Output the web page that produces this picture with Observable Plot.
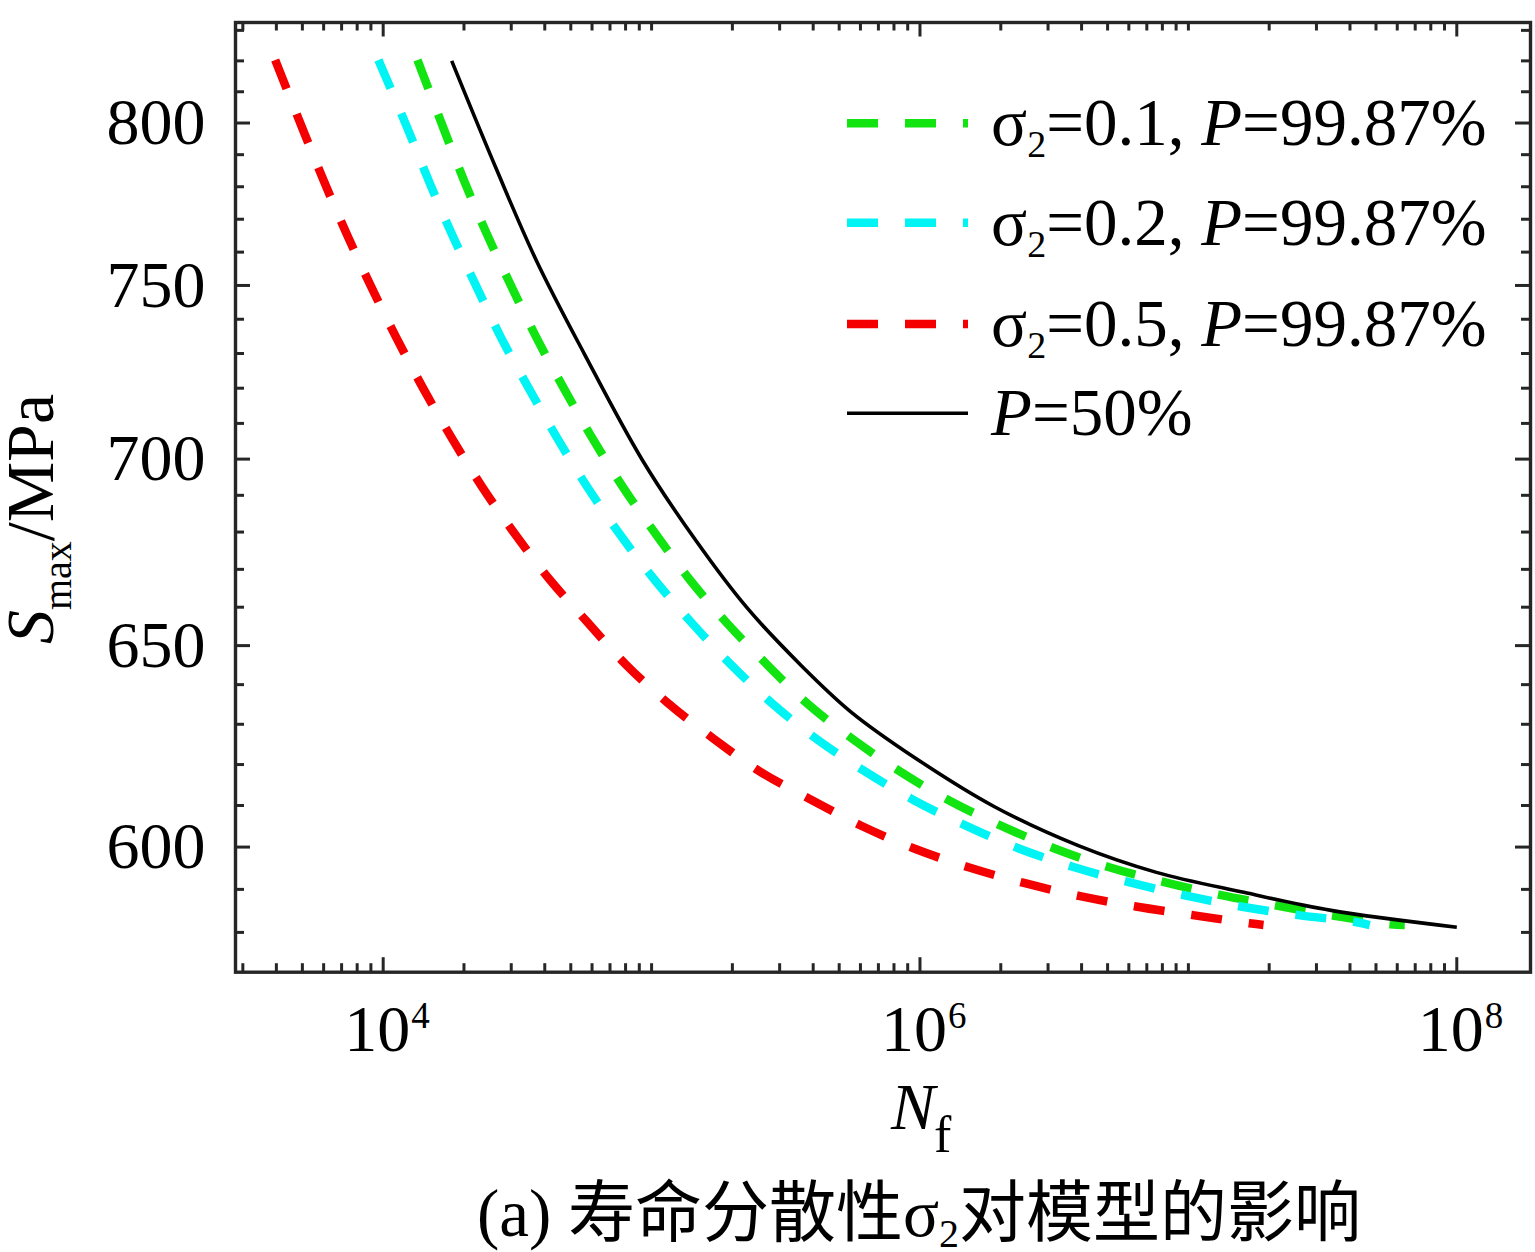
<!DOCTYPE html>
<html>
<head>
<meta charset="utf-8">
<script src="https://cdn.jsdelivr.net/npm/d3@7"></script>
<script src="https://cdn.jsdelivr.net/npm/@observablehq/plot@0.6"></script>
<style>
html, body { margin: 0; padding: 0; background: #fff; }
#chart, #caption { width: 1535px; display: block; }
svg { display: block; }
</style>
</head>
<body>
<div id="chart"></div>
<div id="caption"></div>
<script>
// ---------- axis limits & ticks ----------
const xDomain = [2817, 1.882e8];
const yDomain = [570.9, 832.6];
const xMajorTicks = [1e4, 1e6, 1e8];
const xMajorExp = ["4", "6", "8"];
const xMinorTicks = [
  3e3, 4e3, 5e3, 6e3, 7e3, 8e3, 9e3,
  2e4, 3e4, 4e4, 5e4, 6e4, 7e4, 8e4, 9e4, 1e5,
  2e5, 3e5, 4e5, 5e5, 6e5, 7e5, 8e5, 9e5,
  2e6, 3e6, 4e6, 5e6, 6e6, 7e6, 8e6, 9e6, 1e7,
  2e7, 3e7, 4e7, 5e7, 6e7, 7e7, 8e7, 9e7
];
const yMajorTicks = [600, 650, 700, 750, 800];
const yMinorTicks = [580, 590, 610, 620, 630, 640, 660, 670, 680, 690, 710, 720, 730, 740, 760, 770, 780, 790, 810, 820, 830];

// ---------- series ----------
// P = 50 %
const N_p50 = [1.80e4, 2.65e4, 3.72e4, 5.615e4, 9.21e4, 1.469e5, 2.27e5, 3.585e5, 5.51e5, 9.66e5, 1.895e6, 3.87e6, 7.6e6, 1.607e7, 3.40e7, 1.0e8];
const S_p50 = [820.0, 785.2, 757.5, 729.9, 699.9, 677.5, 659.8, 645.1, 633.2, 621.5, 609.7, 600.4, 594.0, 589.3, 585.1, 581.2];
// sigma2 = 0.1, P = 99.87 %
const N_s01 = [1.342e4, 1.678e4, 2.01e4, 2.436e4, 3.00e4, 3.72e4, 4.70e4, 6.00e4, 7.80e4, 1.033e5, 1.386e5, 1.911e5, 2.694e5, 3.85e5, 5.67e5, 8.47e5, 1.295e6, 2.01e6, 3.19e6, 5.07e6, 8.13e6, 1.31e7, 2.13e7, 3.45e7, 5.65e7, 6.40e7];
const S_s01 = [820.3, 798.3, 781.5, 765.4, 749.8, 734.7, 720.1, 706.0, 692.4, 679.6, 667.3, 655.8, 645.1, 634.9, 626.1, 618.2, 611.1, 605.1, 599.6, 595.2, 591.7, 588.7, 586.2, 583.9, 581.9, 581.7];
// sigma2 = 0.2, P = 99.87 %
const N_s02 = [9.60e3, 1.232e4, 1.484e4, 1.804e4, 2.222e4, 2.746e4, 3.48e4, 4.44e4, 5.745e4, 7.58e4, 1.024e5, 1.415e5, 1.978e5, 2.85e5, 4.16e5, 6.28e5, 9.60e5, 1.488e6, 2.349e6, 3.756e6, 6.00e6, 9.70e6, 1.566e7, 2.572e7, 4.19e7, 4.74e7];
const S_s02 = [820.3, 798.3, 781.5, 765.4, 749.8, 734.7, 720.1, 706.0, 692.4, 679.6, 667.3, 655.8, 645.1, 634.9, 626.1, 618.2, 611.1, 605.1, 599.6, 595.2, 591.7, 588.6, 586.0, 584.0, 582.4, 581.7];
// sigma2 = 0.5, P = 99.87 %
const N_s05 = [3.96e3, 5.00e3, 6.03e3, 7.32e3, 9.00e3, 1.118e4, 1.406e4, 1.797e4, 2.333e4, 3.087e4, 4.17e4, 5.71e4, 8.03e4, 1.152e5, 1.695e5, 2.543e5, 3.88e5, 6.04e5, 9.56e5, 1.516e6, 2.44e6, 3.95e6, 6.37e6, 1.037e7, 1.69e7, 1.905e7];
const S_s05 = [820.3, 798.3, 781.5, 765.4, 749.8, 734.7, 720.1, 706.0, 692.4, 679.6, 667.3, 656.4, 645.1, 635.3, 626.5, 618.2, 611.6, 605.1, 599.6, 595.2, 591.5, 588.4, 586.0, 584.0, 582.1, 581.7];

// legend
const legendSigma = ["0.1", "0.2", "0.5", null];
const legendP = ["99.87%", "99.87%", "99.87%", "50%"];
const seriesColors = ["#12e412", "#00f4f4", "#f40000", "#000000"];

// ---------- layout ----------
const FONT = "'Liberation Serif', 'Times New Roman', 'Noto Sans CJK SC', serif";
const W = 1535, H = 1165;
const fx0 = 235, fx1 = 1530, fy0 = 22, fy1 = 971.7;
const frameW = fx1 - fx0, frameH = fy1 - fy0;
const AX = "#262626";
const DASH = "31,27";

const toRows = (N, S) => N.map((n, i) => ({N: n, S: S[i]}));
const lineOpts = (color, dashed) => ({
  x: "N", y: "S", stroke: color, strokeWidth: dashed ? 8.5 : 3.6,
  strokeDasharray: dashed ? DASH : null, strokeLinecap: "butt", strokeLinejoin: "round",
  curve: "catmull-rom"
});

const chart = Plot.plot({
  width: W, height: H,
  marginLeft: fx0, marginRight: W - fx1, marginTop: fy0, marginBottom: H - fy1,
  x: {type: "log", domain: xDomain, axis: null},
  y: {type: "log", domain: yDomain, axis: null},
  style: {fontFamily: FONT, background: "#fff", overflow: "visible", color: "#000"},
  marks: [
    Plot.line(toRows(N_s01, S_s01), lineOpts(seriesColors[0], true)),
    Plot.line(toRows(N_s02, S_s02), lineOpts(seriesColors[1], true)),
    Plot.line(toRows(N_s05, S_s05), lineOpts(seriesColors[2], true)),
    Plot.line(toRows(N_p50, S_p50), lineOpts(seriesColors[3], false)),
    // inward ticks, mirrored on all four sides
    Plot.ruleX(xMinorTicks, {x: d => d, insetTop: frameH - 8.5, stroke: AX, strokeWidth: 3}),
    Plot.ruleX(xMinorTicks, {x: d => d, insetBottom: frameH - 8.5, stroke: AX, strokeWidth: 3}),
    Plot.ruleX(xMajorTicks, {x: d => d, insetTop: frameH - 14.5, stroke: AX, strokeWidth: 3}),
    Plot.ruleX(xMajorTicks, {x: d => d, insetBottom: frameH - 14.5, stroke: AX, strokeWidth: 3}),
    Plot.ruleY(yMinorTicks, {y: d => d, insetRight: frameW - 9, stroke: AX, strokeWidth: 3}),
    Plot.ruleY(yMinorTicks, {y: d => d, insetLeft: frameW - 9, stroke: AX, strokeWidth: 3}),
    Plot.ruleY(yMajorTicks, {y: d => d, insetRight: frameW - 15, stroke: AX, strokeWidth: 3}),
    Plot.ruleY(yMajorTicks, {y: d => d, insetLeft: frameW - 15, stroke: AX, strokeWidth: 3}),
    Plot.frame({stroke: AX, strokeWidth: 3.4}),
    // tick labels
    Plot.text(yMajorTicks, {y: d => d, text: d => String(d), frameAnchor: "left", textAnchor: "end",
      dx: -30, fontSize: 66, fill: "#000"}),
    Plot.text(xMajorTicks, {x: d => d, text: () => "10", frameAnchor: "bottom", lineAnchor: "bottom",
      dy: 79, dx: -6, fontSize: 66, fill: "#000"}),
    Plot.text(xMajorTicks, {x: d => d, text: (d, i) => xMajorExp[i], frameAnchor: "bottom", lineAnchor: "bottom",
      textAnchor: "start", dx: 28, dy: 56, fontSize: 37, fill: "#000"})
  ]
});
document.getElementById("chart").appendChild(chart);

const svg = d3.select(chart);

// y-axis title  S_max/MPa
const yt = svg.append("text")
  .attr("transform", "translate(53,519) rotate(-90)")
  .attr("text-anchor", "middle").attr("font-family", FONT).attr("font-size", 68).attr("fill", "#000");
yt.append("tspan").attr("font-style", "italic").text("S");
yt.append("tspan").attr("font-size", 40).attr("dy", 18).text("max");
yt.append("tspan").attr("dy", -18).text("/MPa");

// x-axis title  N_f
const xt = svg.append("text")
  .attr("x", 891).attr("y", 1129).attr("text-anchor", "start")
  .attr("font-family", FONT).attr("font-size", 66).attr("fill", "#000");
xt.append("tspan").attr("font-style", "italic").text("N");
xt.append("tspan").attr("font-size", 52).attr("dy", 23).attr("dx", -1).text("f");

// legend
const rowsY = [123.3, 222.7, 324.0, 413.3];
const lg = svg.append("g").attr("font-family", FONT).attr("font-size", 67).attr("fill", "#000")
  .attr("text-anchor", "start");
legendP.forEach((p, i) => {
  const dashed = legendSigma[i] !== null;
  lg.append("line")
    .attr("x1", 847).attr("x2", 968).attr("y1", rowsY[i]).attr("y2", rowsY[i])
    .attr("stroke", seriesColors[i]).attr("stroke-width", dashed ? 8.5 : 3.6)
    .attr("stroke-dasharray", dashed ? DASH : null);
  const t = lg.append("text").attr("x", 991).attr("y", rowsY[i] + 22).attr("text-anchor", "start");
  if (dashed) {
    t.append("tspan").text("σ");
    t.append("tspan").attr("font-size", 38).attr("dy", 12).text("2");
    t.append("tspan").attr("dy", -12).text("=" + legendSigma[i] + ", ");
  }
  t.append("tspan").attr("font-style", "italic").text("P");
  t.append("tspan").text("=" + p);
});

// caption below the chart
const cap = d3.select("#caption").append("svg").attr("width", W).attr("height", 87).style("overflow", "visible");
const ct = cap.append("text").attr("x", 919).attr("y", 71).attr("text-anchor", "middle")
  .attr("font-family", FONT).attr("font-size", 67).attr("fill", "#000");
ct.append("tspan").text("(a) 寿命分散性σ");
ct.append("tspan").attr("font-size", 40).attr("dy", 11).text("2");
ct.append("tspan").attr("dy", -11).text("对模型的影响");
</script>
</body>
</html>
